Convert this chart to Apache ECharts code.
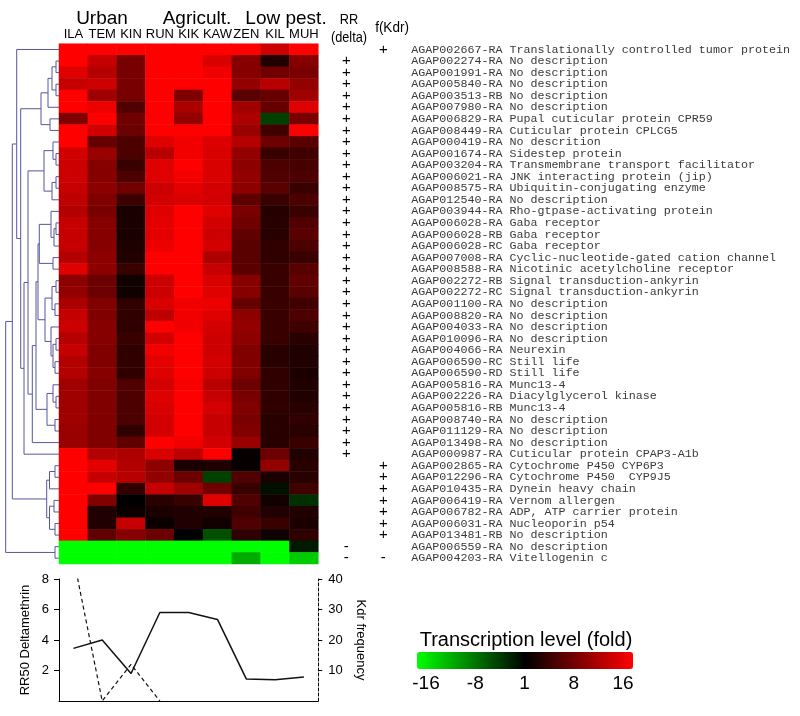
<!DOCTYPE html>
<html>
<head>
<meta charset="utf-8">
<title>Transcription level heatmap</title>
<script src="https://cdn.jsdelivr.net/npm/echarts@6/dist/echarts.min.js"></script>
<style>
  html, body { margin: 0; padding: 0; background: #fff; }
  #chart { width: 800px; height: 716px; }
</style>
</head>
<body>
<div id="chart"></div>
<script>
// populations (columns) and their groups
const populations = ['ILA', 'TEM', 'KIN', 'RUN', 'KIK', 'KAW', 'ZEN', 'KIL', 'MUH']
const groups = ['Urban', 'Agricult.', 'Low pest.']

const geneIds = [
  'AGAP002667-RA', 'AGAP002274-RA', 'AGAP001991-RA', 'AGAP005840-RA', 'AGAP003513-RB',
  'AGAP007980-RA', 'AGAP006829-RA', 'AGAP008449-RA', 'AGAP000419-RA', 'AGAP001674-RA',
  'AGAP003204-RA', 'AGAP006021-RA', 'AGAP008575-RA', 'AGAP012540-RA', 'AGAP003944-RA',
  'AGAP006028-RA', 'AGAP006028-RB', 'AGAP006028-RC', 'AGAP007008-RA', 'AGAP008588-RA',
  'AGAP002272-RB', 'AGAP002272-RC', 'AGAP001100-RA', 'AGAP008820-RA', 'AGAP004033-RA',
  'AGAP010096-RA', 'AGAP004066-RA', 'AGAP006590-RC', 'AGAP006590-RD', 'AGAP005816-RA',
  'AGAP002226-RA', 'AGAP005816-RB', 'AGAP008740-RA', 'AGAP011129-RA', 'AGAP013498-RA',
  'AGAP000987-RA', 'AGAP002865-RA', 'AGAP012296-RA', 'AGAP010435-RA', 'AGAP006419-RA',
  'AGAP006782-RA', 'AGAP006031-RA', 'AGAP013481-RB', 'AGAP006559-RA', 'AGAP004203-RA'
]
const geneDesc = [
  'Translationally controlled tumor protein', 'No description', 'No description', 'No description', 'No description',
  'No description', 'Pupal cuticular protein CPR59', 'Cuticular protein CPLCG5', 'No descrition', 'Sidestep protein',
  'Transmembrane transport facilitator', 'JNK interacting protein (jip)', 'Ubiquitin-conjugating enzyme', 'No description', 'Rho-gtpase-activating protein',
  'Gaba receptor', 'Gaba receptor', 'Gaba receptor', 'Cyclic-nucleotide-gated cation channel', 'Nicotinic acetylcholine receptor',
  'Signal transduction-ankyrin', 'Signal transduction-ankyrin', 'No description', 'No description', 'No description',
  'No description', 'Neurexin', 'Still life', 'Still life', 'Munc13-4',
  'Diacylglycerol kinase', 'Munc13-4', 'No description', 'No description', 'No description',
  'Cuticular protein CPAP3-A1b', 'Cytochrome P450 CYP6P3', 'Cytochrome P450  CYP9J5', 'Dynein heavy chain', 'Vernom allergen',
  'ADP, ATP carrier protein', 'Nucleoporin p54', 'No description', 'No description', 'Vitellogenin c'
]
// correlation signs with RR (delta) and f(Kdr)
const rrSign = [
  '', '+', '+', '+', '+', '+', '+', '+', '+', '+',
  '+', '+', '+', '+', '+', '+', '+', '+', '+', '+',
  '+', '+', '+', '+', '+', '+', '+', '+', '+', '+',
  '+', '+', '+', '+', '+', '+', '', '', '', '',
  '', '', '', '-', '-'
]
const kdrSign = [
  '+', '', '', '', '', '', '', '', '', '',
  '', '', '', '', '', '', '', '', '', '',
  '', '', '', '', '', '', '', '', '', '',
  '', '', '', '', '', '', '+', '+', '+', '+',
  '+', '+', '+', '', '-'
]

// transcription level, log2 of fold change (-4 = -16x, 4 = 16x), one row per gene
const levels = [
  [4, 4, 4, 4, 4, 4, 4, 3.2, 4],
  [4, 3.1, 1.9, 4, 4, 3.4, 2.1, 0.5, 2.1],
  [3.5, 2.8, 1.9, 4, 4, 3.8, 2.1, 1.75, 1.9],
  [3.1, 3.2, 1.9, 4, 4, 4, 2.3, 2.9, 2.3],
  [4, 2.5, 1.9, 4, 2.0, 4, 1.4, 1.6, 2.5],
  [4, 3.7, 1.25, 4, 2.7, 4, 2.5, 1.6, 3.5],
  [2.0, 4, 1.75, 4, 2.3, 4, 2.7, -1.0, 1.9],
  [4, 3.3, 1.7, 4, 4, 4, 2.4, 1.0, 4],
  [4, 1.6, 1.2, 3.5, 3.8, 3.45, 2.8, 1.7, 1.4],
  [3.3, 2.4, 1.2, 2.9, 3.8, 3.4, 2.3, 0.9, 1.0],
  [3.2, 2.1, 0.9, 3.5, 4, 3.4, 2.2, 1.2, 1.1],
  [3.2, 2.1, 1.2, 3.5, 3.85, 3.4, 2.3, 1.25, 1.2],
  [3.1, 2.2, 1.75, 3.2, 3.6, 3.3, 2.2, 1.4, 0.9],
  [3.0, 2.0, 0.95, 3.3, 3.4, 3.3, 1.45, 0.9, 1.2],
  [2.8, 1.9, 0.4, 3.5, 4, 3.5, 1.9, 0.6, 0.9],
  [3.1, 2.1, 0.4, 3.6, 4, 3.3, 1.75, 0.65, 1.25],
  [3.1, 2.1, 0.4, 3.6, 4, 3.2, 1.5, 0.65, 1.4],
  [3.1, 2.1, 0.45, 3.7, 4, 3.3, 1.4, 0.75, 1.2],
  [2.8, 2.2, 0.5, 4, 4, 2.75, 1.4, 0.75, 0.9],
  [3.5, 2.2, 0.9, 4, 4, 3.1, 1.4, 0.9, 1.35],
  [2.2, 1.7, 0.25, 3.2, 4, 3.4, 2.1, 0.9, 1.5],
  [2.3, 1.7, 0.25, 3.2, 4, 3.5, 2.1, 0.9, 1.4],
  [2.7, 2.0, 0.75, 3.4, 3.8, 3.7, 1.6, 0.9, 1.0],
  [3.1, 2.0, 0.75, 3.0, 3.8, 3.5, 2.2, 0.9, 1.2],
  [3.2, 2.1, 0.75, 4, 3.8, 3.3, 2.3, 0.9, 1.0],
  [2.8, 2.1, 0.9, 3.3, 4, 3.2, 2.2, 0.9, 0.65],
  [3.1, 2.0, 0.75, 3.8, 4, 3.2, 2.0, 0.65, 0.5],
  [2.8, 2.0, 0.75, 3.6, 4, 3.3, 2.0, 0.65, 0.5],
  [2.8, 2.1, 0.75, 3.5, 4, 3.2, 2.0, 0.75, 0.4],
  [2.5, 2.0, 1.25, 3.3, 3.9, 2.9, 1.7, 0.75, 0.5],
  [2.5, 2.0, 1.2, 3.5, 4, 3.1, 1.9, 0.75, 0.5],
  [2.5, 2.0, 1.2, 3.4, 4, 3.3, 2.0, 0.75, 0.65],
  [2.5, 2.0, 1.2, 3.3, 4, 3.1, 1.9, 0.65, 0.75],
  [2.4, 2.0, 0.75, 3.3, 4, 3.1, 2.0, 0.65, 0.65],
  [2.4, 2.0, 1.5, 4, 3.8, 3.3, 2.4, 0.65, 0.9],
  [4, 2.8, 2.75, 3.4, 3.0, 4, 0.1, 1.7, 0.5],
  [4, 3.6, 2.8, 2.2, 0.4, 0.5, 0.1, 2.3, 0.65],
  [4, 3.1, 2.9, 2.3, 1.7, -1.0, 1.25, 0.4, 0.65],
  [4, 4, 0.75, 3.1, 2.5, 1.75, 0.9, -0.25, 1.0],
  [4, 2.0, 0, 0.65, 0.9, 3.5, 1.25, 0.25, -0.75],
  [4, 0.5, 0.15, 0.4, 0.5, 0.5, 1.0, 0.5, 0.5],
  [4, 0.5, 3.1, 0.15, 0.5, 0.25, 1.25, 0.9, 0.4],
  [4, 1.5, 2.1, 1.7, 0, -1.25, 0.75, 0.25, 0.75],
  [-4, -4, -4, -4, -4, -4, -4, -4, -0.4],
  [-4, -4, -4, -4, -4, -4, -2.7, -4, -3.2]
]

// bottom panel
const rr50 = [3.45, 4.0, 1.8, 5.8, 5.8, 5.35, 1.45, 1.4, 1.57]
const kdrFreq = [47, 0, 12, 0, null, null, null, null, null]
const foldTicks = ['-16', '-8', '1', '8', '16']

// row clustering: [distance, left, right], leaves are row indexes
const rowTree = [53.3,
  [46.7,
    [42.3, 0,
      [38.3,
        [18, [11, [7, [3, 1, 2], [3, 3, 4]], 5], [9, 6, 7]],
        [35,
          [31,
            [15, [6, 8, [3, 9, 10]], [7, [3, 11, 12], 13]],
            [26.7,
              [23,
                [21,
                  [19.7, [8, 14, [5, [3, 15, 16], 17]], [6, 18, 19]],
                  [14, [7, [3, 20, 21], [4, 22, 23]], [8, 24, [6, [3, 25, 26], [4, 27, 28]]]]],
                [12, [6, 29, [3, 30, 31]], [4, 32, 33]]],
              34]],
          35]]],
    [12.3, [9.5, [4, 36, 37], 38], [9.5, [5, 39, 40], [4, 41, 42]]]],
  [4, 43, 44]]

function buildDendro(node, out) {
  if (typeof node === 'number') {
    return [0, node + 0.5]
  }
  const a = buildDendro(node[1], out)
  const b = buildDendro(node[2], out)
  out.push({ coords: [a, [node[0], a[1]], [node[0], b[1]], b] })
  return [node[0], (a[1] + b[1]) / 2]
}
const dendroLines = []
buildDendro(rowTree, dendroLines)

const heatData = []
levels.forEach(function(row, r) {
  row.forEach(function(v, c) {
    heatData.push([c, r, v])
  })
})

const SANS = 'Liberation Sans, Arial, sans-serif'

function headText(text, x, y, size, squeeze) {
  return {
    type: 'text',
    x: x,
    y: y,
    scaleX: squeeze || 1,
    style: { text: text, font: size + 'px ' + SANS, fill: '#000', textAlign: 'center', textVerticalAlign: 'middle' }
  }
}

const chart = echarts.init(document.getElementById('chart'))
chart.setOption({
  backgroundColor: '#fff',
  animation: false,
  grid: [
    { left: 0, top: 43.7, width: 59, height: 520.3 },
    { left: 59, top: 43.7, width: 259.3, height: 520.3 },
    { left: 59, top: 579, width: 259.3, height: 122 }
  ],
  xAxis: [
    { gridIndex: 0, type: 'value', min: 0, max: 59, inverse: true, show: false },
    {
      gridIndex: 1,
      type: 'category',
      position: 'top',
      data: populations,
      axisLine: { show: false },
      axisTick: { show: false },
      axisLabel: { interval: 0, margin: 3, color: '#000', fontSize: 13, fontFamily: SANS }
    },
    {
      gridIndex: 2,
      type: 'category',
      data: populations,
      axisLine: { lineStyle: { color: '#000', width: 1 } },
      axisTick: { show: false },
      axisLabel: { show: false }
    }
  ],
  yAxis: [
    { gridIndex: 0, type: 'value', min: 0, max: 45, inverse: true, show: false },
    {
      gridIndex: 1,
      type: 'category',
      position: 'right',
      inverse: true,
      data: geneIds,
      axisLine: { show: false },
      axisTick: { show: false },
      axisLabel: {
        interval: 0,
        margin: 19,
        formatter: function(value, idx) {
          return '{rr|' + (rrSign[idx] || '\u00a0') + '}{kdr|' + (kdrSign[idx] || '\u00a0') +
            '}{gene|' + value + ' ' + geneDesc[idx] + '}'
        },
        rich: {
          rr: { width: 18, align: 'center', fontSize: 15, lineHeight: 12, fontFamily: SANS, color: '#000' },
          kdr: { width: 56, align: 'center', fontSize: 15, lineHeight: 12, fontFamily: SANS, color: '#000' },
          gene: { fontSize: 11.7, lineHeight: 12, fontFamily: 'Liberation Mono, Courier New, monospace', color: '#3a3a3a' }
        }
      }
    },
    {
      gridIndex: 2,
      type: 'value',
      min: 0,
      max: 8,
      interval: 2,
      name: 'RR50 Deltamethrin',
      nameLocation: 'middle',
      nameGap: 27,
      nameTextStyle: { color: '#000', fontSize: 13, fontFamily: SANS },
      splitLine: { show: false },
      axisLine: { show: true, lineStyle: { color: '#000', width: 1 } },
      axisTick: { show: true, length: 5, lineStyle: { color: '#000' } },
      axisLabel: { showMinLabel: false, margin: 10, color: '#000', fontSize: 13, fontFamily: SANS }
    },
    {
      gridIndex: 2,
      type: 'value',
      position: 'right',
      min: 0,
      max: 40,
      interval: 10,
      name: 'Kdr frequency',
      nameLocation: 'middle',
      nameRotate: -90,
      nameGap: 36,
      nameTextStyle: { color: '#000', fontSize: 13, fontFamily: SANS },
      splitLine: { show: false },
      axisLine: { show: true, lineStyle: { color: '#000', width: 1, type: [3, 2] } },
      axisTick: { show: true, length: 4, lineStyle: { color: '#000' } },
      axisLabel: { showMinLabel: false, margin: 10, color: '#000', fontSize: 13, fontFamily: SANS }
    }
  ],
  visualMap: {
    type: 'continuous',
    seriesIndex: 1,
    min: -4,
    max: 4,
    orient: 'horizontal',
    left: 417,
    top: 652,
    itemWidth: 17,
    itemHeight: 216,
    padding: 0,
    calculable: false,
    hoverLink: false,
    inRange: { color: ['#00ff00', '#000000', '#ff0000'] }
  },
  graphic: [
    headText(groups[0], 102, 19, 19),
    headText(groups[1], 197, 19, 19),
    headText(groups[2], 286, 19, 19),
    headText('RR', 349, 20, 15, 0.85),
    headText('(delta)', 349, 37.5, 15, 0.85),
    headText('f(Kdr)', 392, 28, 15, 0.9),
    headText('Transcription level (fold)', 526, 640, 20)
  ].concat(foldTicks.map(function(t, i) {
    return headText(t, 426 + i * 49.25, 684, 19)
  })),
  series: [
    {
      type: 'lines',
      coordinateSystem: 'cartesian2d',
      xAxisIndex: 0,
      yAxisIndex: 0,
      polyline: true,
      silent: true,
      data: dendroLines,
      lineStyle: { color: '#5656a0', width: 1, opacity: 1 }
    },
    {
      type: 'heatmap',
      xAxisIndex: 1,
      yAxisIndex: 1,
      data: heatData,
      emphasis: { disabled: true }
    },
    {
      type: 'line',
      xAxisIndex: 2,
      yAxisIndex: 2,
      data: rr50,
      symbol: 'none',
      lineStyle: { color: '#111', width: 1.5 }
    },
    {
      type: 'line',
      xAxisIndex: 2,
      yAxisIndex: 3,
      data: kdrFreq,
      symbol: 'none',
      lineStyle: { color: '#111', width: 1.2, type: [4, 3] }
    }
  ]
})
</script>
</body>
</html>
